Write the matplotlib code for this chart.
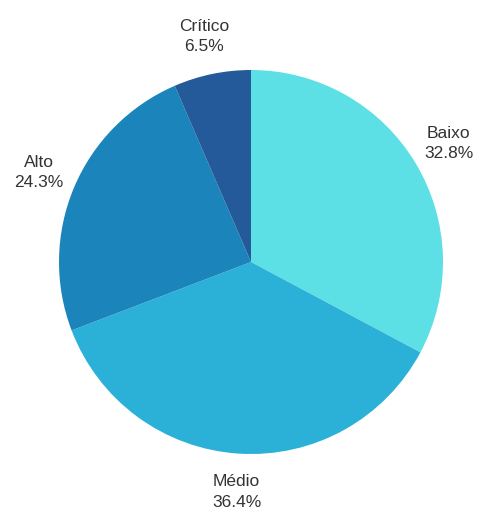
import matplotlib
matplotlib.use("Agg")
import matplotlib.pyplot as plt

categories = ["Baixo", "Médio", "Alto", "Crítico"]
values = [32.8, 36.4, 24.3, 6.5]
colors = ["#5ce0e6", "#2bb1d7", "#1a84bb", "#245a99"]

plt.rcParams['font.family'] = ['Liberation Sans', 'DejaVu Sans']

fig = plt.figure(figsize=(4.81, 5.13), dpi=100)
ax = fig.add_axes([59 / 481, 59 / 513, 384 / 481, 384 / 513])

labels = [f"{c}\n{v:.1f}%" for c, v in zip(categories, values)]
wedges, texts = ax.pie(values, labels=labels, colors=colors, startangle=90,
                       counterclock=False, labeldistance=1.2,
                       wedgeprops=dict(linewidth=0),
                       textprops=dict(fontsize=12.5, color="#333333"))
for t in texts:
    t.set_ha("center")
    t.set_va("center")
    t.set_linespacing(1.45)

ax.set_xlim(-1, 1)
ax.set_ylim(-1, 1)
ax.set_aspect("equal")

fig.savefig("out.png", dpi=100, facecolor="white")
